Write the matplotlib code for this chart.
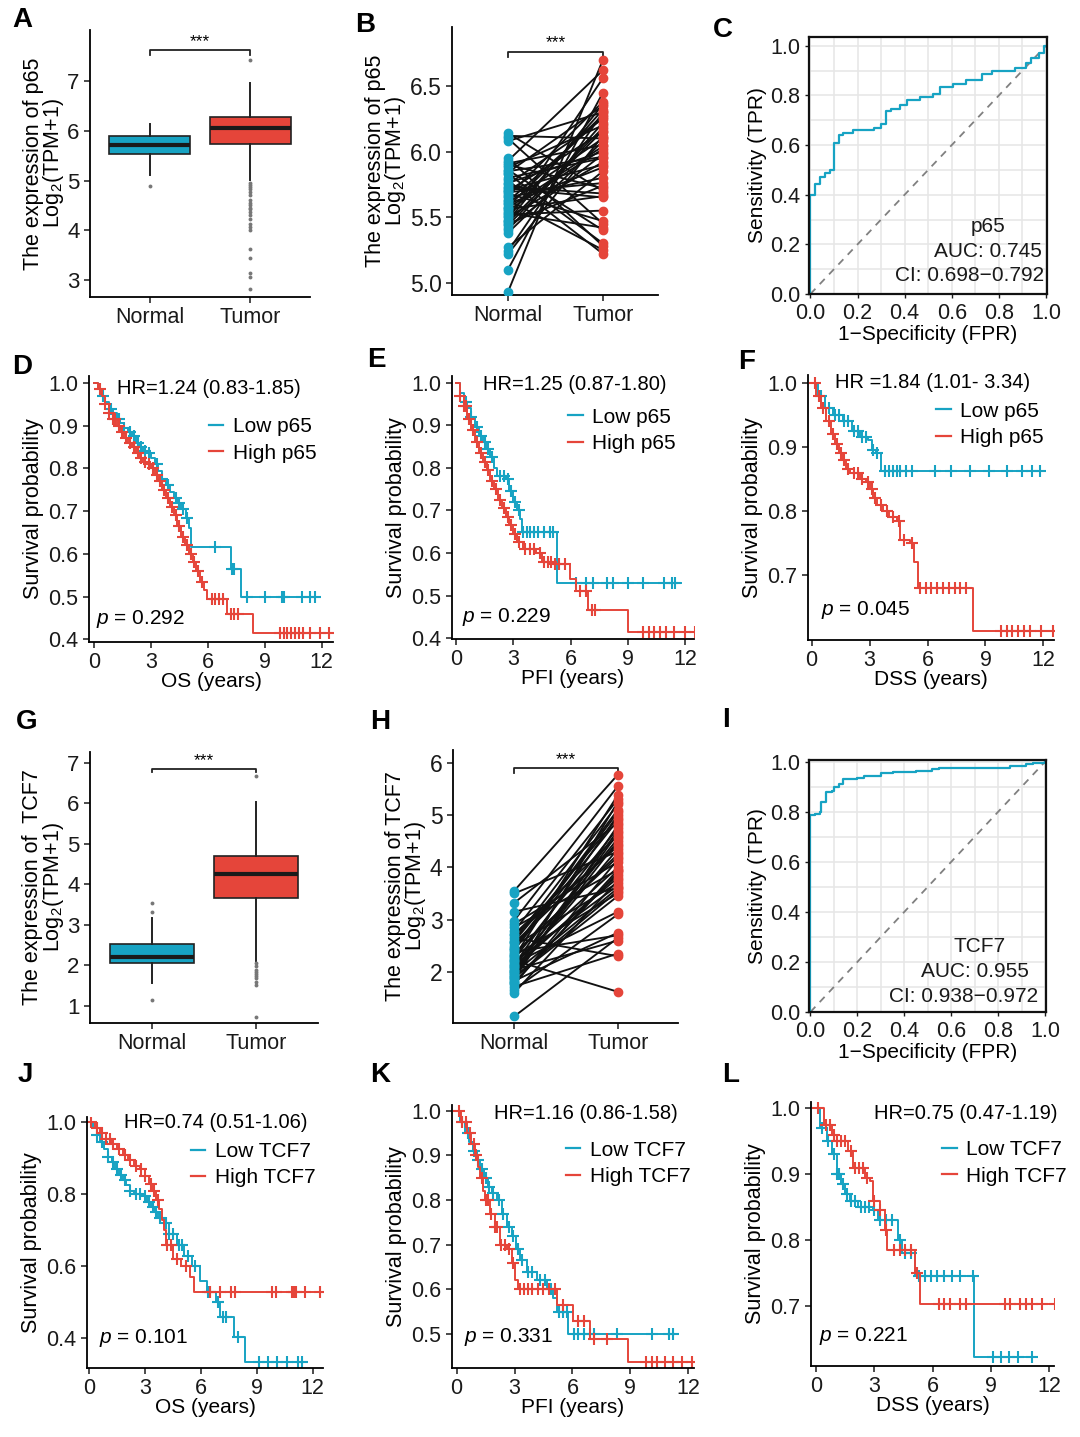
import numpy as np
import matplotlib
matplotlib.use("Agg")
import matplotlib.pyplot as plt
from matplotlib.lines import Line2D

plt.rcParams['font.family'] = ['Liberation Sans', 'DejaVu Sans']
plt.rcParams['mathtext.fontset'] = 'custom'
plt.rcParams['mathtext.rm'] = 'Liberation Sans'
plt.rcParams['mathtext.it'] = 'Liberation Sans:italic'
plt.rcParams['axes.linewidth'] = 1.3

CYAN = '#17A3C3'
RED = '#E5453A'
W, H = 1080, 1437

# ---------------- data ----------------
groups = ['Normal', 'Tumor']

# A: p65 boxplot (whislo, q1, med, q3, whishi)
a_normal_box = [5.12, 5.54, 5.71, 5.89, 6.14]
a_normal_out = [4.90]
a_tumor_box = [5.01, 5.74, 6.06, 6.28, 6.97]
a_tumor_out = [7.42, 4.95, 4.92, 4.88, 4.84, 4.78, 4.72, 4.62, 4.56, 4.52, 4.46, 4.42,
               4.36, 4.30, 4.22, 4.12, 4.06, 4.01, 3.62, 3.44, 3.14, 3.07, 2.82]

# B: paired p65
b_normal = [6.14, 6.12, 6.10, 6.08, 5.95, 5.93, 5.91, 5.90, 5.88, 5.86, 5.84, 5.80, 5.78,
            5.76, 5.75, 5.73, 5.71, 5.70, 5.68, 5.66, 5.65, 5.63, 5.61, 5.60, 5.58, 5.56,
            5.55, 5.53, 5.51, 5.50, 5.48, 5.46, 5.45, 5.42, 5.40, 5.38, 5.27, 5.24, 5.22,
            5.10, 4.93, 5.85, 5.72, 5.62, 5.52, 5.47, 5.83, 5.69, 5.57, 5.44]
b_tumor = [5.70, 6.10, 5.45, 6.30, 5.28, 6.62, 6.05, 5.72, 6.20, 5.40, 6.35, 5.95, 5.22,
           6.00, 6.25, 5.68, 5.90, 6.15, 5.47, 6.38, 5.80, 5.25, 6.10, 5.88, 6.28, 5.66,
           6.02, 5.42, 6.32, 5.92, 6.56, 6.18, 5.74, 5.98, 6.22, 6.08, 5.85, 6.30, 6.12,
           6.45, 6.70, 5.96, 5.65, 6.26, 5.55, 6.36, 5.30, 5.76, 6.04, 6.16]

# C: ROC p65
c_fpr = [0.0, 0.0, 0.02, 0.04, 0.063, 0.085, 0.10, 0.12, 0.14, 0.18, 0.27, 0.30, 0.32, 0.34,
         0.38, 0.41, 0.465, 0.52, 0.55, 0.605, 0.66, 0.73, 0.77, 0.87, 0.915, 0.935, 0.97,
         0.99, 1.0]
c_tpr = [0.0, 0.40, 0.445, 0.47, 0.487, 0.50, 0.61, 0.64, 0.65, 0.66, 0.67, 0.685, 0.737,
         0.747, 0.763, 0.78, 0.793, 0.807, 0.833, 0.846, 0.86, 0.886, 0.90, 0.91, 0.93, 0.95,
         0.97, 1.0, 1.0]

# D: OS p65
d_low_t = [0, 0.2, 0.4, 0.6, 0.8, 1.0, 1.2, 1.4, 1.6, 1.8, 2.0, 2.2, 2.4, 2.6, 2.8, 3.0, 3.2,
           3.4, 3.6, 3.8, 4.0, 4.2, 4.4, 4.6, 4.85, 5.0, 5.1, 7.2, 7.75]
d_low_s = [1.0, 0.985, 0.97, 0.955, 0.94, 0.93, 0.915, 0.905, 0.895, 0.885, 0.875, 0.86, 0.85,
           0.84, 0.835, 0.825, 0.81, 0.795, 0.775, 0.76, 0.745, 0.73, 0.72, 0.705, 0.685,
           0.66, 0.615, 0.565, 0.50]
d_low_end = 11.85
d_low_cens = [0.5, 0.9, 1.3, 1.6, 1.9, 2.1, 2.3, 2.5, 2.7, 2.9, 3.3, 3.6, 3.9, 4.3, 4.5, 4.7,
              4.9, 6.4, 7.3, 7.4, 8.05, 9.0, 9.9, 10.0, 10.95, 11.4, 11.65]
d_high_t = [0, 0.2, 0.4, 0.6, 0.8, 1.0, 1.2, 1.4, 1.6, 1.8, 2.0, 2.2, 2.4, 2.6, 2.8, 3.0, 3.2,
            3.4, 3.6, 3.8, 4.0, 4.2, 4.4, 4.6, 4.8, 5.0, 5.2, 5.4, 5.6, 5.8, 5.95, 7.0, 8.4]
d_high_s = [1.0, 0.985, 0.97, 0.95, 0.93, 0.915, 0.90, 0.885, 0.87, 0.86, 0.85, 0.835, 0.825,
            0.815, 0.81, 0.80, 0.785, 0.77, 0.75, 0.73, 0.71, 0.69, 0.665, 0.64, 0.62, 0.60,
            0.58, 0.56, 0.535, 0.515, 0.495, 0.46, 0.415]
d_high_end = 12.45
d_high_cens = [0.3, 0.6, 0.8, 1.0, 1.1, 1.3, 1.5, 1.7, 1.9, 2.1, 2.3, 2.5, 2.7, 2.9, 3.1, 3.3,
               3.5, 3.7, 3.9, 4.1, 4.3, 4.5, 4.7, 4.9, 5.1, 5.3, 5.5, 5.7, 6.2, 6.4, 6.6, 6.8,
               7.2, 7.4, 7.6, 9.8, 10.0, 10.2, 10.4, 10.6, 10.8, 11.0, 11.4, 11.9, 12.4]

# E: PFI p65
e_low_t = [0, 0.2, 0.4, 0.6, 0.8, 1.0, 1.2, 1.4, 1.6, 1.8, 2.0, 2.15, 2.6, 2.8, 3.0, 3.2,
           3.35, 3.45, 5.27]
e_low_s = [1.0, 0.975, 0.955, 0.94, 0.92, 0.895, 0.875, 0.86, 0.845, 0.825, 0.80, 0.78,
           0.775, 0.745, 0.72, 0.70, 0.68, 0.65, 0.53]
e_low_end = 11.8
e_low_cens = [0.5, 0.8, 1.1, 1.3, 1.5, 1.7, 1.9, 2.3, 2.5, 2.7, 2.9, 3.1, 3.3, 3.5, 3.7, 3.9,
              4.1, 4.3, 4.6, 4.9, 5.1, 6.3, 6.8, 7.2, 7.9, 8.2, 9.0, 9.8, 10.9, 11.3, 11.5]
e_high_t = [0, 0.2, 0.4, 0.6, 0.8, 1.0, 1.2, 1.4, 1.6, 1.8, 2.0, 2.2, 2.4, 2.6, 2.8, 3.0, 3.2,
            3.5, 4.2, 4.5, 5.1, 5.97, 6.3, 6.93, 9.03]
e_high_s = [1.0, 0.97, 0.945, 0.915, 0.89, 0.86, 0.835, 0.815, 0.795, 0.77, 0.75, 0.725,
            0.705, 0.685, 0.665, 0.645, 0.625, 0.61, 0.60, 0.58, 0.575, 0.54, 0.51, 0.465,
            0.415]
e_high_end = 12.5
e_high_cens = [0.2, 0.4, 0.5, 0.7, 0.9, 1.1, 1.3, 1.5, 1.7, 1.9, 2.1, 2.3, 2.5, 2.7, 2.9, 3.1,
               3.3, 3.6, 3.9, 4.1, 4.4, 4.6, 4.8, 5.0, 5.2, 5.4, 5.7, 6.5, 6.8, 7.1, 7.3, 9.8,
               10.1, 10.4, 10.7, 11.0, 11.4, 12.0, 12.5]

# F: DSS p65
f_low_t = [0, 0.35, 0.7, 1.1, 1.6, 2.1, 2.5, 2.9, 3.1, 3.35, 3.6]
f_low_s = [1.0, 0.98, 0.96, 0.95, 0.94, 0.925, 0.915, 0.91, 0.895, 0.89, 0.863]
f_low_end = 11.8
f_low_cens = [0.5, 0.9, 1.2, 1.4, 1.7, 1.9, 2.2, 2.4, 2.6, 2.8, 3.2, 3.4, 3.8, 4.0, 4.2, 4.4,
              4.6, 4.9, 5.2, 6.4, 7.2, 8.2, 9.2, 10.1, 10.9, 11.4, 11.8]
f_high_t = [0, 0.25, 0.5, 0.75, 1.0, 1.2, 1.4, 1.6, 1.8, 2.0, 2.5, 2.8, 3.0, 3.2, 3.4, 3.7,
            4.0, 4.4, 4.6, 5.1, 5.3, 5.5, 8.38]
f_high_s = [1.0, 0.98, 0.96, 0.94, 0.92, 0.905, 0.89, 0.88, 0.865, 0.86, 0.85, 0.845, 0.835,
            0.82, 0.81, 0.80, 0.79, 0.785, 0.755, 0.75, 0.72, 0.68, 0.613]
f_high_end = 12.55
f_high_cens = [0.15, 0.4, 0.6, 0.9, 1.1, 1.3, 1.5, 1.7, 1.9, 2.2, 2.4, 2.6, 2.9, 3.1, 3.3,
               3.6, 3.9, 4.2, 4.5, 4.8, 5.2, 5.6, 5.9, 6.2, 6.5, 6.8, 7.1, 7.4, 7.7, 8.0, 9.8,
               10.1, 10.4, 10.7, 11.0, 11.3, 11.9, 12.5]

# G: TCF7 boxplot
g_normal_box = [1.56, 2.05, 2.22, 2.52, 3.16]
g_normal_out = [3.55, 3.31, 1.16]
g_tumor_box = [2.10, 3.66, 4.27, 4.71, 6.04]
g_tumor_out = [6.68, 2.05, 1.98, 1.90, 1.85, 1.80, 1.75, 1.70, 1.60, 1.52, 0.74]

# H: paired TCF7
h_normal = [3.55, 3.50, 3.32, 3.15, 2.98, 2.92, 2.85, 2.78, 2.72, 2.65, 2.60, 2.55, 2.50,
            2.46, 2.42, 2.38, 2.35, 2.31, 2.28, 2.25, 2.22, 2.19, 2.16, 2.13, 2.10, 2.07,
            2.04, 2.01, 1.98, 1.95, 1.92, 1.89, 1.86, 1.83, 1.80, 1.76, 1.72, 1.66, 1.60,
            1.15, 2.70, 2.44, 2.20, 2.02, 1.90, 2.58, 2.33, 2.12, 1.97, 1.78]
h_tumor = [5.77, 4.30, 4.85, 3.60, 5.55, 4.10, 3.95, 5.30, 4.60, 2.30, 5.20, 4.45, 3.70,
           5.10, 4.90, 2.70, 4.20, 3.50, 5.38, 4.75, 1.62, 4.00, 3.15, 5.00, 4.55, 3.85,
           2.60, 4.35, 3.60, 5.25, 4.65, 3.45, 4.80, 2.75, 3.90, 4.15, 2.35, 3.10, 3.75,
           2.65, 4.40, 5.05, 3.65, 4.70, 3.55, 4.95, 4.25, 3.80, 4.50, 3.95]

# I: ROC TCF7
i_fpr = [0.0, 0.0, 0.02, 0.04, 0.045, 0.06, 0.065, 0.09, 0.10, 0.12, 0.14, 0.20, 0.23, 0.30,
         0.35, 0.45, 0.52, 0.55, 0.85, 0.92, 0.95, 1.0]
i_tpr = [0.0, 0.787, 0.793, 0.80, 0.84, 0.84, 0.88, 0.885, 0.90, 0.91, 0.93, 0.935, 0.945,
         0.955, 0.96, 0.965, 0.97, 0.977, 0.985, 0.99, 0.995, 1.0]

# J: OS TCF7
j_low_t = [0, 0.2, 0.4, 0.6, 0.8, 1.0, 1.2, 1.4, 1.6, 1.8, 2.0, 2.2, 2.4, 2.9, 3.1, 3.3, 3.5,
           3.7, 4.0, 4.3, 4.7, 5.1, 5.5, 5.95, 6.3, 6.8, 7.0, 7.75, 8.36]
j_low_s = [1.0, 0.985, 0.965, 0.945, 0.925, 0.905, 0.89, 0.87, 0.855, 0.84, 0.825, 0.81, 0.80,
           0.795, 0.78, 0.765, 0.75, 0.735, 0.72, 0.69, 0.66, 0.63, 0.60, 0.56, 0.53, 0.50,
           0.46, 0.405, 0.335]
j_low_end = 11.4
j_low_cens = [0.4, 0.7, 1.0, 1.3, 1.5, 1.7, 1.9, 2.2, 2.5, 2.7, 3.0, 3.2, 3.4, 3.6, 3.8, 4.1,
              4.3, 4.5, 4.8, 5.0, 5.3, 5.7, 6.35, 6.5, 6.9, 7.2, 7.35, 8.0, 9.1, 9.6, 10.1,
              10.6, 11.2, 11.4]
j_high_t = [0, 0.3, 0.6, 0.9, 1.2, 1.5, 1.8, 2.1, 2.4, 2.7, 3.0, 3.2, 3.45, 3.6, 3.75, 3.9,
            4.0, 4.1, 4.5, 4.95, 5.4, 5.6]
j_high_s = [1.0, 0.985, 0.97, 0.955, 0.94, 0.925, 0.91, 0.895, 0.88, 0.87, 0.85, 0.83, 0.81,
            0.785, 0.76, 0.73, 0.70, 0.66, 0.62, 0.60, 0.57, 0.53]
j_high_end = 12.55
j_high_cens = [0.1, 0.4, 0.7, 0.9, 1.1, 1.3, 1.6, 1.9, 2.2, 2.5, 2.8, 3.0, 3.3, 3.5, 3.7,
               4.2, 4.4, 4.7, 5.2, 6.5, 7.0, 7.6, 7.8, 9.8, 10.0, 10.9, 11.0, 11.1, 11.6, 12.4]

# K: PFI TCF7
k_low_t = [0, 0.2, 0.43, 0.65, 0.86, 1.05, 1.2, 1.4, 1.64, 1.85, 2.07, 2.33, 2.6, 2.85, 3.1,
           3.28, 3.63, 4.14, 4.66, 5.0, 5.18, 5.79]
k_low_s = [1.0, 0.975, 0.95, 0.93, 0.91, 0.89, 0.87, 0.85, 0.83, 0.815, 0.80, 0.77, 0.74,
           0.72, 0.69, 0.665, 0.64, 0.62, 0.60, 0.58, 0.55, 0.50]
k_low_end = 11.3
k_low_cens = [0.3, 0.6, 0.9, 1.1, 1.3, 1.5, 1.7, 1.9, 2.2, 2.4, 2.7, 2.9, 3.2, 3.4, 3.7, 3.9,
              4.3, 4.6, 4.9, 5.3, 5.5, 5.7, 6.1, 6.3, 6.6, 6.9, 7.1, 8.3, 10.1, 11.0, 11.2]
k_high_t = [0, 0.25, 0.52, 0.75, 0.95, 1.1, 1.2, 1.35, 1.47, 1.73, 1.99, 2.25, 2.59, 2.85,
            3.02, 3.2, 5.18, 6.04, 6.9, 8.9]
k_high_s = [1.0, 0.975, 0.95, 0.925, 0.90, 0.875, 0.85, 0.82, 0.80, 0.77, 0.74, 0.70, 0.69,
            0.66, 0.62, 0.60, 0.565, 0.53, 0.49, 0.437]
k_high_end = 12.26
k_high_cens = [0.1, 0.3, 0.5, 0.7, 0.9, 1.0, 1.3, 1.5, 1.6, 1.8, 2.0, 2.1, 2.3, 2.5, 2.7,
               2.9, 3.3, 3.5, 3.7, 3.9, 4.2, 4.5, 4.8, 5.1, 5.5, 6.3, 6.6, 7.1, 7.8, 9.8,
               10.1, 10.4, 10.8, 11.2, 11.7, 12.2]

# L: DSS TCF7
l_low_t = [0, 0.2, 0.55, 0.8, 1.06, 1.3, 1.5, 1.75, 2.18, 2.95, 3.2, 4.23, 4.4, 5.1, 8.1]
l_low_s = [1.0, 0.97, 0.95, 0.93, 0.90, 0.885, 0.87, 0.86, 0.85, 0.845, 0.83, 0.80, 0.78,
           0.745, 0.622]
l_low_end = 11.1
l_low_cens = [0.3, 0.6, 0.9, 1.1, 1.2, 1.4, 1.6, 1.8, 2.0, 2.3, 2.5, 2.7, 3.0, 3.3, 3.6, 3.9,
              4.3, 4.6, 4.9, 5.3, 5.6, 5.9, 6.2, 6.6, 7.0, 7.4, 8.05, 9.1, 9.5, 9.9, 10.4,
              11.1]
l_high_t = [0, 0.4, 0.8, 1.06, 1.66, 1.92, 2.5, 2.78, 2.95, 3.29, 3.55, 3.63, 5.09, 5.35]
l_high_s = [1.0, 0.975, 0.96, 0.95, 0.935, 0.91, 0.895, 0.89, 0.86, 0.845, 0.815, 0.785,
            0.75, 0.703]
l_high_end = 12.3
l_high_cens = [0.1, 0.5, 0.7, 0.9, 1.1, 1.3, 1.5, 1.8, 2.0, 2.2, 2.4, 2.6, 3.0, 3.3, 3.6,
               4.0, 4.3, 4.6, 4.9, 5.2, 6.3, 6.6, 6.9, 7.4, 7.7, 9.7, 10.0, 10.5, 10.8, 11.1,
               11.6, 12.3]


# ---------------- helpers ----------------
def px_axes(fig, left, top, right, bottom):
    return fig.add_axes([left / W, 1 - bottom / H, (right - left) / W, (bottom - top) / H])


def clean(ax, size):
    ax.spines['top'].set_visible(False)
    ax.spines['right'].set_visible(False)
    ax.tick_params(direction='out', length=4, width=1.1, labelsize=size, colors='#1a1a1a')


def bracket(ax, y, d):
    ax.plot([1, 1, 2, 2], [y - d, y, y, y - d], color='#222222', lw=1.3)
    ax.text(1.5, y + d * 0.3, '***', ha='center', va='bottom', fontsize=12.5)


def box_panel(ax, normal_box, normal_out, tumor_box, tumor_out, ylim, yticks, ylabel, br):
    stats = []
    for lab, b, o in [('Normal', normal_box, normal_out), ('Tumor', tumor_box, tumor_out)]:
        stats.append(dict(label=lab, whislo=b[0], q1=b[1], med=b[2], q3=b[3], whishi=b[4],
                          fliers=o))
    res = ax.bxp(stats, positions=[1, 2], widths=0.8, patch_artist=True, showcaps=False,
                 boxprops=dict(edgecolor='#222222', lw=1.2),
                 whiskerprops=dict(color='#222222', lw=1.4),
                 medianprops=dict(color='#1a1a1a', lw=3),
                 flierprops=dict(marker='o', markersize=2.8, markerfacecolor='#777777',
                                 markeredgecolor='none'))
    for patch, c in zip(res['boxes'], [CYAN, RED]):
        patch.set_facecolor(c)
    clean(ax, 16)
    ax.set_xlim(0.41, 2.59)
    ax.set_ylim(*ylim)
    ax.set_yticks(yticks)
    ax.set_xticks([1, 2])
    ax.set_xticklabels(groups, fontsize=15.5)
    ax.set_ylabel(ylabel, fontsize=15.5, linespacing=0.85, labelpad=1)
    bracket(ax, *br)


def paired_panel(ax, normal, tumor, ylim, yticks, fmt, ylabel, br):
    for a, b in zip(normal, tumor):
        ax.plot([1, 2], [a, b], color='#111111', lw=1.35, zorder=1)
    ax.plot(np.ones(len(normal)), normal, 'o', color=CYAN, ms=6, zorder=3)
    ax.plot(np.full(len(tumor), 2), tumor, 'o', color=RED, ms=6, zorder=3)
    clean(ax, 16.5)
    ax.set_xlim(0.41, 2.58)
    ax.set_ylim(*ylim)
    ax.set_yticks(yticks)
    ax.set_yticklabels([fmt.format(v) for v in yticks])
    ax.set_xticks([1, 2])
    ax.set_xticklabels(groups, fontsize=15.5)
    ax.set_ylabel(ylabel, fontsize=15.5, linespacing=0.85, labelpad=1)
    bracket(ax, *br)


def roc_panel(ax, fpr, tpr, ylim, texts):
    ax.set_xticks(np.arange(0, 1.01, 0.1), minor=True)
    ax.set_yticks(np.arange(0, 1.01, 0.1), minor=True)
    ax.set_xticks(np.arange(0, 1.01, 0.2))
    ax.set_yticks(np.arange(0, 1.01, 0.2))
    ax.set_xticklabels(['%.1f' % v for v in np.arange(0, 1.01, 0.2)])
    ax.set_yticklabels(['%.1f' % v for v in np.arange(0, 1.01, 0.2)])
    ax.grid(which='both', color='#E6E6E6', lw=1.1)
    ax.set_axisbelow(True)
    ax.plot([0, 1], [0, 1], color='#808080', lw=1.3, dashes=(4, 3.5))
    ax.step(fpr, tpr, where='post', color=CYAN, lw=1.6)
    ax.set_xlim(-0.006, 1.004)
    ax.set_ylim(*ylim)
    for sp in ax.spines.values():
        sp.set_linewidth(1.6)
        sp.set_color('#111111')
    ax.tick_params(which='major', direction='out', length=3, width=1, labelsize=15.5,
                   colors='#1a1a1a')
    ax.tick_params(which='minor', length=0)
    ax.set_xlabel('1\u2212Specificity (FPR)', fontsize=15, labelpad=1)
    ax.set_ylabel('Sensitivity (TPR)', fontsize=15, labelpad=2)
    for x, y, s, ha in texts:
        ax.text(x, y, s, ha=ha, va='center', fontsize=15, color='#1a1a1a')


def step_value(t, s, c):
    return s[np.searchsorted(t, c, side='right') - 1]


def km_panel(ax, curves, xlabel, gene, xlim, ylim, yticks, hr, hr_xy, p, p_xy, leg_xy):
    handles = []
    for t, s, end, cens, color, lab in curves:
        t = np.asarray(t)
        s = np.asarray(s)
        ax.step(np.r_[t, end], np.r_[s, s[-1]], where='post', color=color, lw=1.4)
        cy = [step_value(t, s, c) for c in cens]
        ax.plot(cens, cy, '+', color=color, ms=9, mew=1.5)
        handles.append(Line2D([], [], color=color, lw=1.6, label=lab + ' ' + gene))
    clean(ax, 15.5)
    ax.set_xlim(*xlim)
    ax.set_ylim(*ylim)
    ax.set_xticks([0, 3, 6, 9, 12])
    ax.set_yticks(yticks)
    ax.set_yticklabels(['%.1f' % v for v in yticks])
    ax.set_xlabel(xlabel, fontsize=15, labelpad=-1)
    ax.set_ylabel('Survival probability', fontsize=15.5, labelpad=3)
    ax.text(hr_xy[0], hr_xy[1], hr, ha='left', va='center', fontsize=14.5)
    ax.text(p_xy[0], p_xy[1], '$p$ = ' + p, ha='left', va='center', fontsize=15)
    ax.legend(handles=[handles[0], handles[1]], loc='upper left', bbox_to_anchor=leg_xy,
              frameon=False, fontsize=15, handlelength=0.7, handletextpad=0.45,
              labelspacing=0.35, borderpad=0, borderaxespad=0)


# ---------------- figure ----------------
fig = plt.figure(figsize=(W / 100, H / 100), dpi=100)

ax = px_axes(fig, 90, 30, 310, 297)
box_panel(ax, a_normal_box, a_normal_out, a_tumor_box, a_tumor_out, (2.66, 8.03),
          [3, 4, 5, 6, 7], 'The expression of p65\nLog$_2$(TPM+1)', (7.62, 0.1))

ax = px_axes(fig, 452, 27, 658, 295)
paired_panel(ax, b_normal, b_tumor, (4.906, 6.95), [5.0, 5.5, 6.0, 6.5], '{:.1f}',
             'The expression of p65\nLog$_2$(TPM+1)', (6.76, 0.04))

ax = px_axes(fig, 809, 37, 1047, 294)
roc_panel(ax, c_fpr, c_tpr, (0.0, 1.035),
          [(0.754, 0.27, 'p65', 'center'), (0.754, 0.17, 'AUC: 0.745', 'center'),
           (0.99, 0.075, 'CI: 0.698\u22120.792', 'right')])

ax = px_axes(fig, 89, 376, 333, 642)
km_panel(ax, [(d_low_t, d_low_s, d_low_end, d_low_cens, CYAN, 'Low'),
              (d_high_t, d_high_s, d_high_end, d_high_cens, RED, 'High')],
         'OS (years)', 'p65', (-0.26, 12.6), (0.394, 1.016), [0.4, 0.5, 0.6, 0.7, 0.8, 0.9, 1.0],
         'HR=1.24 (0.83-1.85)', (1.2, 0.987), '0.292', (0.1, 0.448), (0.49, 0.845))

ax = px_axes(fig, 452, 376, 694, 639)
km_panel(ax, [(e_low_t, e_low_s, e_low_end, e_low_cens, CYAN, 'Low'),
              (e_high_t, e_high_s, e_high_end, e_high_cens, RED, 'High')],
         'PFI (years)', 'p65', (-0.21, 12.47), (0.398, 1.016), [0.4, 0.5, 0.6, 0.7, 0.8, 0.9, 1.0],
         'HR=1.25 (0.87-1.80)', (1.4, 0.997), '0.229', (0.3, 0.45), (0.48, 0.88))

ax = px_axes(fig, 808, 375, 1054, 640)
km_panel(ax, [(f_low_t, f_low_s, f_low_end, f_low_cens, CYAN, 'Low'),
              (f_high_t, f_high_s, f_high_end, f_high_cens, RED, 'High')],
         'DSS (years)', 'p65', (-0.19, 12.55), (0.599, 1.012), [0.7, 0.8, 0.9, 1.0],
         'HR =1.84 (1.01- 3.34)', (1.2, 1.0), '0.045', (0.5, 0.645), (0.52, 0.9))

ax = px_axes(fig, 90, 752, 318, 1023)
box_panel(ax, g_normal_box, g_normal_out, g_tumor_box, g_tumor_out, (0.58, 7.27),
          [1, 2, 3, 4, 5, 6, 7], 'The expression of  TCF7\nLog$_2$(TPM+1)', (6.86, 0.08))

ax = px_axes(fig, 453, 750, 678, 1023)
paired_panel(ax, h_normal, h_tumor, (1.024, 6.24), [2, 3, 4, 5, 6], '{:.0f}',
             'The expression of TCF7\nLog$_2$(TPM+1)', (5.89, 0.08))

ax = px_axes(fig, 809, 760, 1046, 1012)
roc_panel(ax, i_fpr, i_tpr, (0.0, 1.007),
          [(0.72, 0.26, 'TCF7', 'center'), (0.70, 0.16, 'AUC: 0.955', 'center'),
           (0.97, 0.06, 'CI: 0.938\u22120.972', 'right')])

ax = px_axes(fig, 87, 1117, 323, 1368)
km_panel(ax, [(j_low_t, j_low_s, j_low_end, j_low_cens, CYAN, 'Low'),
              (j_high_t, j_high_s, j_high_end, j_high_cens, RED, 'High')],
         'OS (years)', 'TCF7', (-0.12, 12.55), (0.318, 1.015), [0.4, 0.6, 0.8, 1.0],
         'HR=0.74 (0.51-1.06)', (1.85, 1.0), '0.101', (0.5, 0.40), (0.44, 0.9))

ax = px_axes(fig, 452, 1105, 694, 1368)
km_panel(ax, [(k_low_t, k_low_s, k_low_end, k_low_cens, CYAN, 'Low'),
              (k_high_t, k_high_s, k_high_end, k_high_cens, RED, 'High')],
         'PFI (years)', 'TCF7', (-0.24, 12.3), (0.424, 1.013), [0.5, 0.6, 0.7, 0.8, 0.9, 1.0],
         'HR=1.16 (0.86-1.58)', (1.95, 0.994), '0.331', (0.4, 0.494), (0.47, 0.865))

ax = px_axes(fig, 811, 1102, 1054, 1366)
km_panel(ax, [(l_low_t, l_low_s, l_low_end, l_low_cens, CYAN, 'Low'),
              (l_high_t, l_high_s, l_high_end, l_high_cens, RED, 'High')],
         'DSS (years)', 'TCF7', (-0.26, 12.24), (0.609, 1.0096), [0.7, 0.8, 0.9, 1.0],
         'HR=0.75 (0.47-1.19)', (3.0, 0.992), '0.221', (0.15, 0.654), (0.54, 0.855))

# panel letters
for letter, x, y in [('A', 12, 20), ('B', 355, 25), ('C', 713, 30), ('D', 12, 367),
                     ('E', 367, 360), ('F', 738, 362), ('G', 16, 722), ('H', 370, 722),
                     ('I', 722, 720), ('J', 18, 1075), ('K', 370, 1075), ('L', 722, 1075)]:
    fig.text(x / W, 1 - y / H, letter, fontsize=20, fontweight='bold', ha='left', va='center')

fig.savefig('out.png', dpi=100)
